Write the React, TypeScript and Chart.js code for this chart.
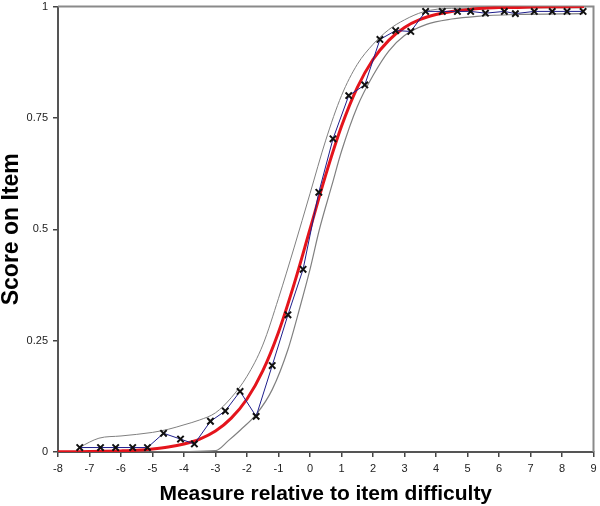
import React, { useEffect, useRef } from "react";
import { Chart, registerables } from "chart.js";

Chart.register(...registerables);

// Observed item scores (crosses, joined by thin blue line)
const obsX = [-7.31, -6.65, -6.17, -5.63, -5.16, -4.65, -4.11, -3.67, -3.16, -2.69, -2.22, -1.71, -1.2, -0.7, -0.22, 0.28, 0.73, 1.23, 1.74, 2.22, 2.72, 3.2, 3.67, 4.2, 4.68, 5.1, 5.57, 6.17, 6.52, 7.12, 7.69, 8.16, 8.67];
const obsY = [0.01, 0.01, 0.01, 0.01, 0.01, 0.042, 0.029, 0.018, 0.069, 0.092, 0.136, 0.08, 0.194, 0.308, 0.41, 0.583, 0.703, 0.8, 0.824, 0.926, 0.946, 0.944, 0.989, 0.989, 0.989, 0.989, 0.985, 0.989, 0.984, 0.989, 0.989, 0.989, 0.989];

// Model curve (red)
const modelX = [-8, -7.5, -7, -6.5, -6, -5.5, -5, -4.5, -4, -3.5, -3, -2.5, -2, -1.5, -1, -0.5, 0, 0.5, 1, 1.5, 2, 2.5, 3, 3.5, 4, 4.5, 5, 5.5, 6, 6.5, 7, 7.5, 8, 8.7];
const modelY = [0.0003, 0.0006, 0.0009, 0.0015, 0.0025, 0.004, 0.0067, 0.011, 0.018, 0.029, 0.047, 0.076, 0.119, 0.182, 0.269, 0.378, 0.5, 0.622, 0.731, 0.818, 0.881, 0.924, 0.953, 0.971, 0.982, 0.989, 0.993, 0.996, 0.998, 0.998, 0.999, 0.9995, 0.9997, 0.9998];

// Upper confidence band (grey)
const upperX = [-7.31, -6.7, -6.0, -5.0, -4.5, -4.0, -3.5, -3.0, -2.5, -2.0, -1.5, -1.0, -0.5, 0.0, 0.5, 1.0, 1.5, 2.0, 2.5, 3.0, 3.6, 4.5, 8.67];
const upperY = [0.011, 0.031, 0.036, 0.044, 0.051, 0.061, 0.072, 0.088, 0.122, 0.17, 0.24, 0.345, 0.46, 0.58, 0.7, 0.8, 0.87, 0.915, 0.948, 0.97, 0.988, 0.996, 0.997];

// Lower confidence band (grey)
const lowerX = [-7.31, -5.0, -3.0, -2.6, -2.2, -1.7, -1.2, -0.7, -0.3, 0.0, 0.3, 0.7, 1.0, 1.5, 2.0, 2.5, 3.0, 3.7, 4.5, 5.3, 6.5, 8.67];
const lowerY = [0, 0, 0.003, 0.025, 0.05, 0.085, 0.14, 0.23, 0.33, 0.41, 0.5, 0.6, 0.675, 0.775, 0.845, 0.9, 0.935, 0.96, 0.972, 0.978, 0.982, 0.984];

const X_MIN = -8;
const X_MAX = 9;
const yTicks = [0, 0.25, 0.5, 0.75, 1];

const xTitle = "Measure relative to item difficulty";
const yTitle = "Score on Item";

const FONT = "'Liberation Sans', Arial, sans-serif";

const pts = (xs: number[], ys: number[]) => xs.map((x, i) => ({ x, y: ys[i] }));

const framePlugin = {
  id: "frame",
  beforeDatasetsDraw(chart: any) {
    const { ctx, chartArea: a } = chart;
    ctx.save();
    ctx.strokeStyle = "#8a8a8a";
    ctx.lineWidth = 2;
    ctx.beginPath();
    ctx.moveTo(a.left, a.top);
    ctx.lineTo(a.right, a.top);
    ctx.lineTo(a.right, a.bottom);
    ctx.stroke();
    ctx.restore();
  },
};

export default function App() {
  const ref = useRef<HTMLCanvasElement>(null);

  useEffect(() => {
    if (!ref.current) return;
    const chart = new Chart(ref.current, {
      type: "line",
      data: {
        datasets: [
          {
            label: "Observed",
            data: pts(obsX, obsY),
            borderColor: "#1e1e8c",
            borderWidth: 1,
            pointStyle: "crossRot",
            pointRadius: 4.5,
            pointBorderColor: "#111111",
            pointBorderWidth: 2,
            pointBackgroundColor: "#111111",
            tension: 0,
            fill: false,
          },
          {
            label: "Model",
            data: pts(modelX, modelY),
            borderColor: "#e4141c",
            borderWidth: 3,
            pointRadius: 0,
            cubicInterpolationMode: "monotone",
            fill: false,
          },
          {
            label: "Upper",
            data: pts(upperX, upperY),
            borderColor: "#808080",
            borderWidth: 1,
            pointRadius: 0,
            cubicInterpolationMode: "monotone",
            fill: false,
          },
          {
            label: "Lower",
            data: pts(lowerX, lowerY),
            borderColor: "#808080",
            borderWidth: 1.2,
            pointRadius: 0,
            cubicInterpolationMode: "monotone",
            fill: false,
          },
        ],
      },
      options: {
        responsive: false,
        animation: false,
        events: [],
        layout: { padding: { top: 4, right: 5, left: 0, bottom: 0 } },
        plugins: {
          legend: { display: false },
          tooltip: { enabled: false },
        },
        scales: {
          x: {
            type: "linear",
            min: X_MIN,
            max: X_MAX,
            afterFit: (s: any) => {
              s.height = 54;
              s.paddingLeft = 0;
              s.paddingRight = 0;
            },
            ticks: {
              stepSize: 1,
              padding: 5,
              color: "#222",
              font: { family: FONT, size: 11 },
              callback: (v: any) => String(v),
              maxRotation: 0,
              autoSkip: false,
            },
            grid: {
              drawOnChartArea: false,
              drawTicks: true,
              tickLength: 5,
              color: "#444",
              lineWidth: 1.5,
            },
            border: { display: true, color: "#555", width: 2 },
            title: {
              display: true,
              text: xTitle,
              color: "#000",
              font: { family: FONT, size: 21, weight: "bold", lineHeight: 1 },
              padding: { top: 0, bottom: 1 },
            },
          },
          y: {
            type: "linear",
            min: 0,
            max: 1,
            afterFit: (s: any) => {
              s.width = 58;
              s.paddingTop = 0;
              s.paddingBottom = 0;
            },
            afterBuildTicks: (s: any) => {
              s.ticks = yTicks.map((v) => ({ value: v }));
            },
            ticks: {
              padding: 5,
              color: "#222",
              font: { family: FONT, size: 11 },
              callback: (v: any) => String(v),
            },
            grid: {
              drawOnChartArea: false,
              drawTicks: true,
              tickLength: 5,
              color: "#444",
              lineWidth: 1.5,
            },
            border: { display: true, color: "#555", width: 2 },
            title: {
              display: true,
              text: yTitle,
              color: "#000",
              font: { family: FONT, size: 23, weight: "bold", lineHeight: 1 },
              padding: { top: 0, bottom: 0 },
            },
          },
        },
      },
      plugins: [framePlugin],
    });
    return () => chart.destroy();
  }, []);

  return (
    <div style={{ position: "absolute", left: 0, top: 0, width: 600, height: 506, background: "#fff" }}>
      <canvas ref={ref} width={600} height={506} style={{ display: "block" }} />
    </div>
  );
}
